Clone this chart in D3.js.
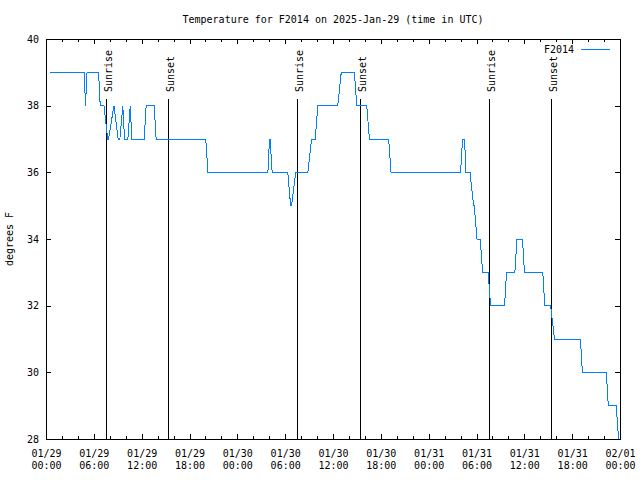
<!DOCTYPE html>
<html><head><meta charset="utf-8">
<script src="https://cdn.jsdelivr.net/npm/d3@7"></script>
<style>body{margin:0;background:#fff}</style>
</head><body><svg id="c" width="640" height="480"></svg>
<script>
const chartTitle = "Temperature for F2014 on 2025-Jan-29 (time in UTC)";
const stationName = "F2014";
const yAxisLabel = "degrees F";
const yTickValues = [28, 30, 32, 34, 36, 38, 40];
const xStart = "2025-01-29 00:00", xEnd = "2025-02-01 00:00";

const obsTime = [
  "2025-01-29 00:30","2025-01-29 04:48","2025-01-29 04:57","2025-01-29 05:09","2025-01-29 06:36",
  "2025-01-29 06:48","2025-01-29 07:16","2025-01-29 07:44","2025-01-29 07:51","2025-01-29 08:31",
  "2025-01-29 09:03","2025-01-29 09:16","2025-01-29 09:38","2025-01-29 09:51","2025-01-29 10:16",
  "2025-01-29 10:34","2025-01-29 10:46","2025-01-29 12:19","2025-01-29 12:34","2025-01-29 13:34",
  "2025-01-29 13:49","2025-01-29 20:02","2025-01-29 20:19",
  "2025-01-30 03:50","2025-01-30 04:02","2025-01-30 04:07","2025-01-30 04:22","2025-01-30 06:20",
  "2025-01-30 06:41","2025-01-30 06:48","2025-01-30 07:20","2025-01-30 08:51","2025-01-30 09:19",
  "2025-01-30 09:46","2025-01-30 10:06","2025-01-30 12:36","2025-01-30 13:02","2025-01-30 14:41",
  "2025-01-30 14:59","2025-01-30 16:14","2025-01-30 16:34","2025-01-30 18:59","2025-01-30 19:17",
  "2025-01-31 04:00","2025-01-31 04:15","2025-01-31 04:30","2025-01-31 04:41","2025-01-31 05:11",
  "2025-01-31 05:38","2025-01-31 05:43","2025-01-31 06:04","2025-01-31 06:28","2025-01-31 06:46",
  "2025-01-31 07:28","2025-01-31 07:46","2025-01-31 09:31","2025-01-31 09:46","2025-01-31 10:49",
  "2025-01-31 11:04","2025-01-31 11:46","2025-01-31 12:01","2025-01-31 14:19","2025-01-31 14:34",
  "2025-01-31 15:18","2025-01-31 15:47","2025-01-31 19:02","2025-01-31 19:17","2025-01-31 22:17",
  "2025-01-31 22:32","2025-01-31 23:32","2025-01-31 23:49"
];
const obsTempF = [
  39,39,38,39,39,
  38,38,37,37,38,
  37,37,38,37,37,
  38,37,37,38,38,
  37,37,36,
  36,37,37,36,36,
  35,35,36,36,37,
  37,38,38,39,39,
  38,38,37,37,36,
  36,37,37,36,36,
  35,35,34,34,33,
  33,32,32,33,33,
  34,34,33,33,32,
  32,31,31,30,30,
  29,29,28
];
const sunriseTimes = ["2025-01-29 07:33","2025-01-30 07:28","2025-01-31 07:31"];
const sunsetTimes  = ["2025-01-29 15:17","2025-01-30 15:22","2025-01-31 15:24"];

const parse = d3.utcParse("%Y-%m-%d %H:%M");
const W = 640, H = 480, L = 46, R = 620, T = 39, B = 439;
const font = "'DejaVu Sans Mono', 'Liberation Mono', monospace";
const lineColor = "#0080ff";

const svg = d3.select("#c");
svg.append("rect").attr("width", W).attr("height", H).attr("fill", "#fff");

const x = d3.scaleUtc().domain([parse(xStart), parse(xEnd)]).range([L, R]);
const y = d3.scaleLinear().domain([28, 40]).range([B, T]);

function styleAxis(g) {
  g.select(".domain").remove();
  g.selectAll("line").attr("stroke", "#000").attr("shape-rendering", "crispEdges");
  g.selectAll("text").attr("font-family", font).attr("font-size", 10).attr("fill", "#000");
}

// minor x ticks (bottom & top)
svg.append("g").attr("transform", `translate(0,${B})`)
  .call(d3.axisBottom(x).ticks(d3.utcHour.every(2)).tickSizeInner(-3).tickSizeOuter(0).tickFormat(""))
  .call(styleAxis);
svg.append("g").attr("transform", `translate(0,${T})`)
  .call(d3.axisTop(x).ticks(d3.utcHour.every(2)).tickSizeInner(-3).tickSizeOuter(0).tickFormat(""))
  .call(styleAxis);

// major x ticks
const fmtD = d3.utcFormat("%m/%d"), fmtT = d3.utcFormat("%H:%M");
const xb = svg.append("g").attr("transform", `translate(0,${B})`)
  .call(d3.axisBottom(x).ticks(d3.utcHour.every(6)).tickSizeInner(-5).tickSizeOuter(0));
xb.selectAll(".tick text").remove();
xb.selectAll(".tick").each(function (d) {
  const t = d3.select(this).append("text").attr("text-anchor", "middle");
  t.append("tspan").attr("x", 0).attr("y", 18).text(fmtD(d));
  t.append("tspan").attr("x", 0).attr("y", 30).text(fmtT(d));
});
xb.call(styleAxis);
svg.append("g").attr("transform", `translate(0,${T})`)
  .call(d3.axisTop(x).ticks(d3.utcHour.every(6)).tickSizeInner(-5).tickSizeOuter(0).tickFormat(""))
  .call(styleAxis);

// y axes
svg.append("g").attr("transform", `translate(${L},0)`)
  .call(d3.axisLeft(y).tickValues(yTickValues).tickSizeInner(-5).tickSizeOuter(0).tickPadding(7))
  .call(styleAxis);
svg.append("g").attr("transform", `translate(${R},0)`)
  .call(d3.axisRight(y).tickValues(yTickValues).tickSizeInner(-5).tickSizeOuter(0).tickFormat(""))
  .call(styleAxis);

// border
svg.append("rect").attr("x", L + 0.5).attr("y", T + 0.5).attr("width", R - L).attr("height", B - T)
  .attr("fill", "none").attr("stroke", "#000").attr("stroke-width", 1).attr("shape-rendering", "crispEdges");

// sunrise / sunset markers
const sunEvents = sunriseTimes.map(t => ({ t: parse(t), label: "Sunrise" }))
  .concat(sunsetTimes.map(t => ({ t: parse(t), label: "Sunset" })));
const sg = svg.append("g");
sunEvents.forEach(e => {
  const px = Math.round(x(e.t)) + 0.5;
  sg.append("line").attr("x1", px).attr("x2", px).attr("y1", 99).attr("y2", B)
    .attr("stroke", "#000").attr("stroke-width", 1).attr("shape-rendering", "crispEdges");
  sg.append("text").attr("transform", `translate(${px + 5},92) rotate(-90)`)
    .attr("text-anchor", "start").attr("font-family", font).attr("font-size", 10).attr("fill", "#000")
    .text(e.label);
});

// data line
const data = obsTime.map((t, i) => ({ t: parse(t), v: obsTempF[i] }));
svg.append("path").datum(data)
  .attr("d", d3.line().x(d => x(d.t)).y(d => y(d.v)))
  .attr("fill", "none").attr("stroke", lineColor).attr("stroke-width", 1)
  .attr("shape-rendering", "crispEdges");

// title (centred over the plot area)
svg.append("text").attr("x", (L + R) / 2).attr("y", 23).attr("text-anchor", "middle")
  .attr("font-family", font).attr("font-size", 10).attr("fill", "#000").text(chartTitle);

// y label
svg.append("text").attr("transform", `translate(13,${(T + B) / 2}) rotate(-90)`).attr("text-anchor", "middle")
  .attr("font-family", font).attr("font-size", 10).attr("fill", "#000").text(yAxisLabel);

// legend
svg.append("text").attr("x", 574).attr("y", 53).attr("text-anchor", "end")
  .attr("font-family", font).attr("font-size", 10).attr("fill", "#000").text(stationName);
svg.append("line").attr("x1", 581).attr("x2", 610).attr("y1", 49.5).attr("y2", 49.5)
  .attr("stroke", lineColor).attr("stroke-width", 1).attr("shape-rendering", "crispEdges");
</script>
</body></html>
